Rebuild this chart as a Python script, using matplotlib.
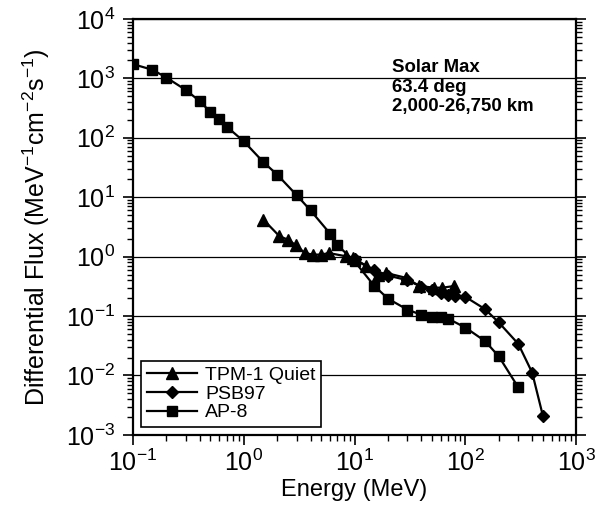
import matplotlib
matplotlib.use("Agg")
import matplotlib.pyplot as plt
from matplotlib.ticker import LogLocator, NullFormatter

plt.rcParams['font.family'] = ['Liberation Sans', 'DejaVu Sans']
plt.rcParams['mathtext.fontset'] = 'custom'
plt.rcParams['mathtext.rm'] = 'Liberation Sans'
plt.rcParams['mathtext.it'] = 'Liberation Sans'
plt.rcParams['mathtext.default'] = 'regular'

# TPM-1 Quiet (triangles)
tpm_e = [1.5, 2.1, 2.5, 2.95, 3.55, 4.2, 5.0, 5.85, 8.4, 9.6, 12.7, 16.2, 19.3, 29, 38.5, 52, 62, 79]
tpm_f = [4.2, 2.2, 1.93, 1.55, 1.15, 1.08, 1.08, 1.15, 1.01, 0.95, 0.69, 0.50, 0.53, 0.44, 0.32, 0.30, 0.30, 0.32]

# PSB97 (diamonds)
psb_e = [10, 15, 20, 30, 40, 50, 60, 70, 80, 100, 150, 200, 300, 400, 500]
psb_f = [0.9, 0.6, 0.48, 0.40, 0.31, 0.27, 0.24, 0.23, 0.22, 0.21, 0.131, 0.078, 0.034, 0.0112, 0.0021]

# AP-8 (squares)
ap8_e = [0.1, 0.15, 0.2, 0.3, 0.4, 0.5, 0.6, 0.7, 1.0, 1.5, 2.0, 3.0, 4.0, 6.0, 7.0,
         10, 15, 20, 30, 40, 50, 60, 70, 100, 150, 200, 300]
ap8_f = [1730, 1390, 1030, 635, 413, 270, 203, 154, 87, 39, 24, 10.8, 6.0, 2.44, 1.56,
         0.83, 0.324, 0.196, 0.128, 0.105, 0.098, 0.096, 0.09, 0.064, 0.038, 0.021, 0.0063]

fig = plt.figure(figsize=(5.99, 5.24), dpi=100)
ax = fig.add_axes([0.222, 0.17, 0.740, 0.794])

ax.plot(tpm_e, tpm_f, color='black', lw=1.6, marker='^', ms=8, label='TPM-1 Quiet', zorder=3)
ax.plot(psb_e, psb_f, color='black', lw=1.6, marker='D', ms=6, label='PSB97', zorder=3)
ax.plot(ap8_e, ap8_f, color='black', lw=1.6, marker='s', ms=6.5, label='AP-8', zorder=3)

ax.set_xscale('log')
ax.set_yscale('log')
ax.set_xlim(0.1, 1000)
ax.set_ylim(1e-3, 1e4)

ax.xaxis.set_major_locator(LogLocator(base=10, numticks=10))
ax.yaxis.set_major_locator(LogLocator(base=10, numticks=10))
ax.xaxis.set_minor_locator(LogLocator(base=10, subs=range(2, 10), numticks=20))
ax.yaxis.set_minor_locator(LogLocator(base=10, subs=range(2, 10), numticks=20))
ax.xaxis.set_minor_formatter(NullFormatter())
ax.yaxis.set_minor_formatter(NullFormatter())

ax.grid(True, which='major', axis='y', color='black', lw=0.9)
ax.set_axisbelow(True)

ax.tick_params(axis='both', which='major', direction='out', length=7, width=1.2,
               labelsize=18, colors='black')
ax.tick_params(axis='y', which='major', pad=6)
ax.tick_params(axis='both', which='minor', direction='out', length=4, width=1.0)
ax.tick_params(axis='y', which='both', left=True, right=True)
ax.tick_params(axis='x', which='both', top=False, bottom=True)

for s in ax.spines.values():
    s.set_linewidth(1.6)
    s.set_color('black')

ax.set_xlabel('Energy (MeV)', fontsize=17, labelpad=2)
ax.set_ylabel('Differential Flux (MeV$^{-1}$cm$^{-2}$s$^{-1}$)', fontsize=18, labelpad=10)

ax.text(0.585, 0.903, 'Solar Max\n63.4 deg\n2,000-26,750 km', transform=ax.transAxes,
        ha='left', va='top', fontsize=13.4, fontweight='bold', linespacing=1.2)

leg = ax.legend(loc='lower left', fontsize=14, frameon=True, fancybox=False,
                edgecolor='black', framealpha=1, handlelength=2.6, handletextpad=0.4,
                borderpad=0.3, labelspacing=0.05, borderaxespad=0.4)
leg.get_frame().set_linewidth(1.2)

fig.savefig('out.png', dpi=100)
